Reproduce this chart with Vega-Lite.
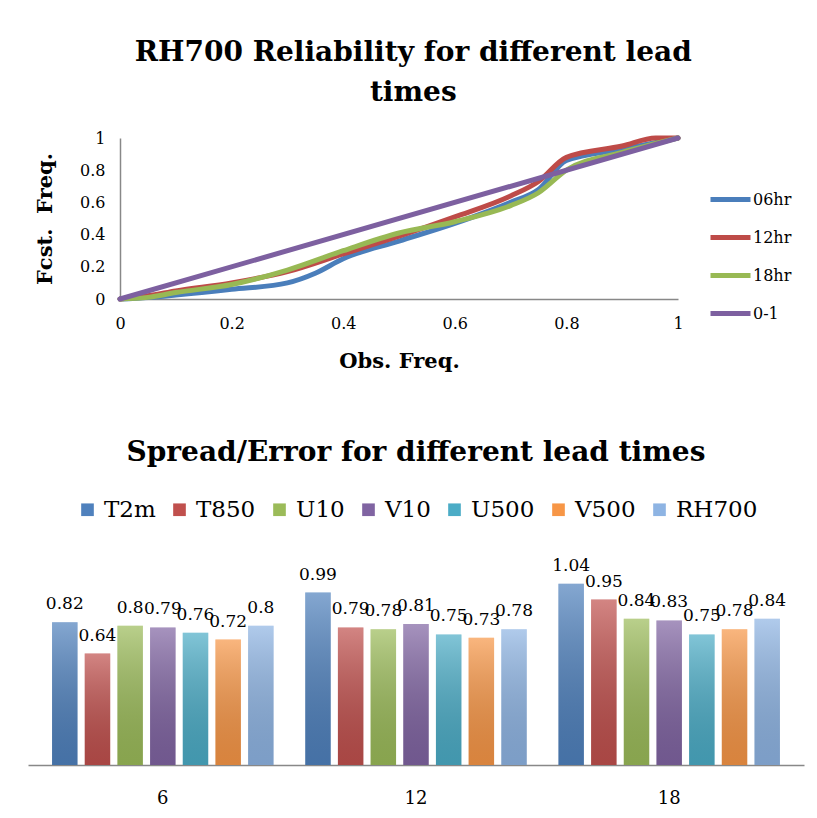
{
  "$schema": "https://vega.github.io/schema/vega-lite/v6.json",
  "background": "white",
  "padding": {"left": 28, "top": 39, "right": 5, "bottom": 5},
  "config": {"view": {"stroke": null}},
  "columns": 1,
  "center": true,
  "bounds": "flush",
  "spacing": 257,
  "resolve": {"scale": {"color": "independent", "x": "independent", "y": "independent"}, "legend": {"color": "independent"}},
  "datasets": {
    "lines": [
      {"series": "06hr", "obs": 0, "fcst": 0},
      {"series": "06hr", "obs": 0.05, "fcst": 0.01},
      {"series": "06hr", "obs": 0.1, "fcst": 0.025},
      {"series": "06hr", "obs": 0.2, "fcst": 0.06},
      {"series": "06hr", "obs": 0.3, "fcst": 0.1},
      {"series": "06hr", "obs": 0.35, "fcst": 0.16},
      {"series": "06hr", "obs": 0.4, "fcst": 0.25},
      {"series": "06hr", "obs": 0.5, "fcst": 0.36},
      {"series": "06hr", "obs": 0.6, "fcst": 0.47},
      {"series": "06hr", "obs": 0.7, "fcst": 0.6},
      {"series": "06hr", "obs": 0.75, "fcst": 0.68},
      {"series": "06hr", "obs": 0.8, "fcst": 0.86},
      {"series": "06hr", "obs": 0.9, "fcst": 0.93},
      {"series": "06hr", "obs": 1, "fcst": 1},
      {"series": "12hr", "obs": 0, "fcst": 0},
      {"series": "12hr", "obs": 0.05, "fcst": 0.02},
      {"series": "12hr", "obs": 0.1, "fcst": 0.05},
      {"series": "12hr", "obs": 0.2, "fcst": 0.1},
      {"series": "12hr", "obs": 0.3, "fcst": 0.17},
      {"series": "12hr", "obs": 0.4, "fcst": 0.28},
      {"series": "12hr", "obs": 0.5, "fcst": 0.39},
      {"series": "12hr", "obs": 0.6, "fcst": 0.51},
      {"series": "12hr", "obs": 0.7, "fcst": 0.64},
      {"series": "12hr", "obs": 0.75, "fcst": 0.73},
      {"series": "12hr", "obs": 0.8, "fcst": 0.88},
      {"series": "12hr", "obs": 0.9, "fcst": 0.95},
      {"series": "12hr", "obs": 0.96, "fcst": 1},
      {"series": "12hr", "obs": 1, "fcst": 1},
      {"series": "18hr", "obs": 0, "fcst": 0},
      {"series": "18hr", "obs": 0.05, "fcst": 0.01},
      {"series": "18hr", "obs": 0.1, "fcst": 0.04},
      {"series": "18hr", "obs": 0.2, "fcst": 0.09},
      {"series": "18hr", "obs": 0.3, "fcst": 0.18},
      {"series": "18hr", "obs": 0.4, "fcst": 0.3},
      {"series": "18hr", "obs": 0.5, "fcst": 0.41},
      {"series": "18hr", "obs": 0.6, "fcst": 0.48},
      {"series": "18hr", "obs": 0.7, "fcst": 0.58},
      {"series": "18hr", "obs": 0.75, "fcst": 0.66},
      {"series": "18hr", "obs": 0.8, "fcst": 0.8},
      {"series": "18hr", "obs": 0.9, "fcst": 0.91},
      {"series": "18hr", "obs": 1, "fcst": 1},
      {"series": "0-1", "obs": 0, "fcst": 0},
      {"series": "0-1", "obs": 1, "fcst": 1}
    ],
    "bars": [
      {"lead": "6", "var": "T2m", "value": 0.82},
      {"lead": "6", "var": "T850", "value": 0.64},
      {"lead": "6", "var": "U10", "value": 0.8},
      {"lead": "6", "var": "V10", "value": 0.79},
      {"lead": "6", "var": "U500", "value": 0.76},
      {"lead": "6", "var": "V500", "value": 0.72},
      {"lead": "6", "var": "RH700", "value": 0.8},
      {"lead": "12", "var": "T2m", "value": 0.99},
      {"lead": "12", "var": "T850", "value": 0.79},
      {"lead": "12", "var": "U10", "value": 0.78},
      {"lead": "12", "var": "V10", "value": 0.81},
      {"lead": "12", "var": "U500", "value": 0.75},
      {"lead": "12", "var": "V500", "value": 0.73},
      {"lead": "12", "var": "RH700", "value": 0.78},
      {"lead": "18", "var": "T2m", "value": 1.04},
      {"lead": "18", "var": "T850", "value": 0.95},
      {"lead": "18", "var": "U10", "value": 0.84},
      {"lead": "18", "var": "V10", "value": 0.83},
      {"lead": "18", "var": "U500", "value": 0.75},
      {"lead": "18", "var": "V500", "value": 0.78},
      {"lead": "18", "var": "RH700", "value": 0.84}
    ]
  },
  "concat": [
    {
      "width": 592,
      "height": 161,
      "title": {"text": ["RH700 Reliability for different lead", "times"], "frame": "bounds", "font": "DejaVu Serif", "fontSize": 28, "fontWeight": "bold", "lineHeight": 40, "offset": 21, "color": "black"},
      "data": {"name": "lines"},
      "mark": {"type": "line", "strokeWidth": 5, "interpolate": "monotone", "strokeCap": "round"},
      "encoding": {
        "x": {"field": "obs", "type": "quantitative", "scale": {"domain": [0, 1], "range": [0, 558]},
          "axis": {"title": "Obs. Freq.", "values": [0, 0.2, 0.4, 0.6, 0.8, 1], "format": "~g", "grid": false, "ticks": false,
            "labelFont": "DejaVu Serif", "labelFontSize": 16, "labelColor": "black", "labelPadding": 16, "labelFlush": false,
            "titleFont": "DejaVu Serif", "titleFontSize": 21, "titleFontWeight": "bold", "titleColor": "black", "titlePadding": 19,
            "domainColor": "#888888", "domainWidth": 1.5}},
        "y": {"field": "fcst", "type": "quantitative", "scale": {"domain": [0, 1]},
          "axis": {"title": "Fcst.\u00a0\u00a0Freq.", "values": [0, 0.2, 0.4, 0.6, 0.8, 1], "format": "~g", "grid": false, "ticks": false,
            "labelFont": "DejaVu Serif", "labelFontSize": 16, "labelColor": "black", "labelPadding": 15, "labelFlush": false,
            "titleFont": "DejaVu Serif", "titleFontSize": 21, "titleFontWeight": "bold", "titleColor": "black", "titlePadding": 24,
            "domainColor": "#888888", "domainWidth": 1.5}},
        "color": {"field": "series", "type": "nominal",
          "scale": {"domain": ["06hr", "12hr", "18hr", "0-1"], "range": ["#4A7EBB", "#BE4B48", "#98B954", "#7D60A0"]},
          "legend": {"title": "\u00a0", "titleFontSize": 10, "titlePadding": 39, "orient": "right", "offset": 6, "padding": 0,
            "symbolType": "M-2,0L2,0", "symbolStrokeWidth": 5, "symbolSize": 400,
            "labelFont": "DejaVu Serif", "labelFontSize": 16, "labelColor": "black", "labelOffset": 10, "rowPadding": 15}}
      }
    },
    {
      "width": 776,
      "height": 209,
      "title": {"text": "Spread/Error for different lead times", "frame": "bounds", "font": "DejaVu Serif", "fontSize": 28, "fontWeight": "bold", "offset": 31, "color": "black"},
      "data": {"name": "bars"},
      "encoding": {
        "x": {"field": "lead", "type": "ordinal", "sort": ["6", "12", "18"], "scale": {"paddingInner": 0.125, "paddingOuter": 0.095},
          "axis": {"title": null, "labelAngle": 0, "ticks": false, "labelFont": "DejaVu Serif", "labelFontSize": 18, "labelColor": "black", "labelPadding": 24,
            "domainColor": "#888888", "domainWidth": 1.5}},
        "xOffset": {"field": "var", "type": "nominal", "sort": ["T2m", "T850", "U10", "V10", "U500", "V500", "RH700"], "scale": {"paddingInner": 0.22, "paddingOuter": 0}},
        "y": {"field": "value", "type": "quantitative", "scale": {"domain": [0, 1.2]}, "axis": null}
      },
      "layer": [
        {
          "mark": {"type": "bar"},
          "encoding": {
            "color": {"field": "var", "type": "nominal", "sort": ["T2m", "T850", "U10", "V10", "U500", "V500", "RH700"],
              "scale": {"domain": ["T2m", "T850", "U10", "V10", "U500", "V500", "RH700"], "range": ["#4F81BD", "#C0504D", "#9BBB59", "#8064A2", "#4BACC6", "#F79646", "#8EB4E3"]},
              "legend": {"title": null, "orient": "none", "direction": "horizontal", "legendX": 48, "legendY": -58, "symbolType": "square", "symbolSize": 160,
                "labelFont": "DejaVu Serif", "labelFontSize": 23, "labelColor": "black", "labelOffset": 5, "columnPadding": 12, "symbolOpacity": 1}}
          }
        },
        {
          "mark": {"type": "bar", "color": {"gradient": "linear", "x1": 0, "y1": 0, "x2": 0, "y2": 1,
            "stops": [{"offset": 0, "color": "rgba(255,255,255,0.3)"}, {"offset": 1, "color": "rgba(0,0,0,0.12)"}]}}
        },
        {
          "mark": {"type": "text", "font": "DejaVu Serif", "fontSize": 17, "color": "black", "baseline": "alphabetic", "dy": -13},
          "encoding": {"text": {"field": "value", "type": "quantitative", "format": "~g"}}
        }
      ]
    }
  ]
}
